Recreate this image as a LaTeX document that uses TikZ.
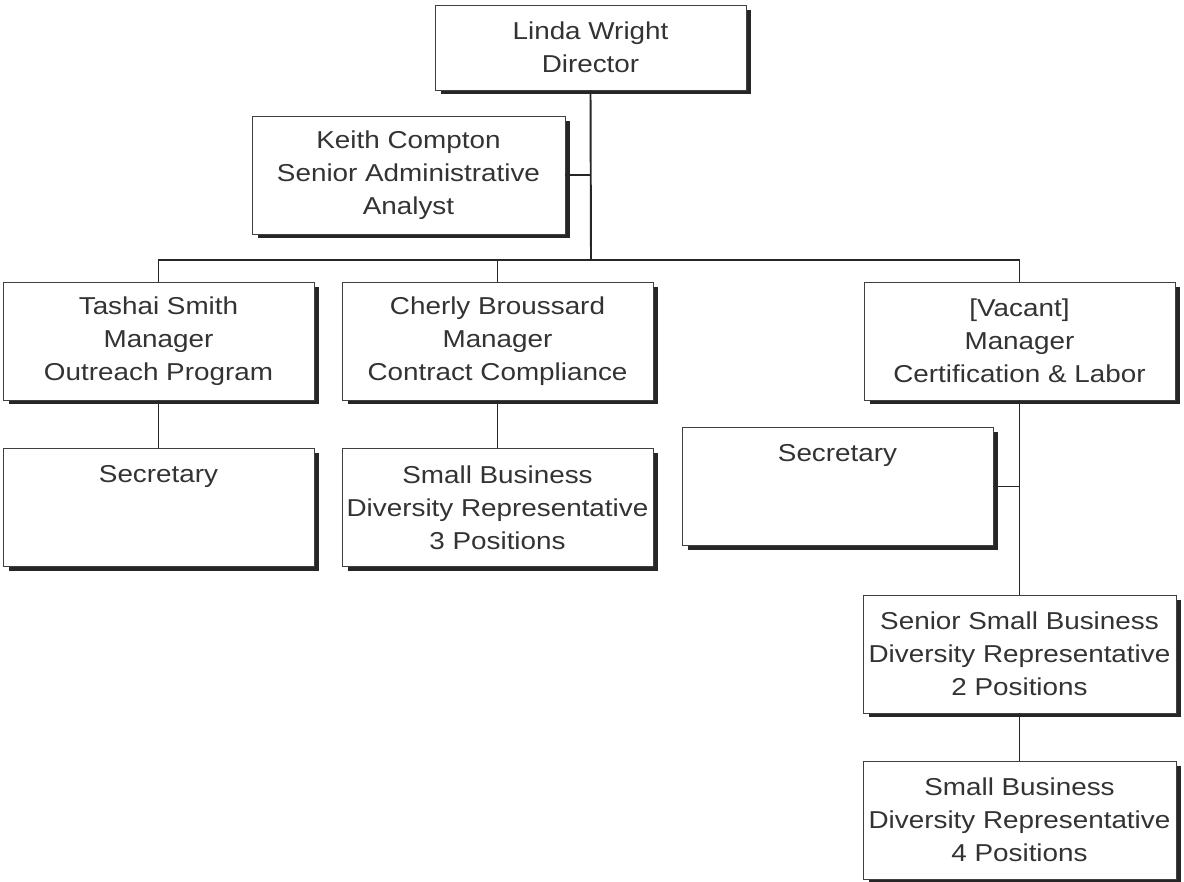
\documentclass[tikz,border=0pt]{standalone}
\usepackage{fontspec}
\setmainfont{Liberation Sans}[FakeStretch=1.14]
\usepackage{tikz}
\usetikzlibrary{shadows}

\tikzset{
  post/.style={draw=black!75, line width=0.5pt, fill=white, text=black!80,
    align=center, minimum width=6.22cm, minimum height=2.36cm, inner sep=0pt,
    font=\fontsize{13.9}{18.8}\selectfont,
    drop shadow={shadow xshift=0.11cm, shadow yshift=-0.09cm, fill=black!85, opacity=1}},
  link/.style={line width=1.1pt, black!85}
}

\begin{document}
\begin{tikzpicture}[x=0.02cm, y=-0.02cm]
    \useasboundingbox (0,0) rectangle (1184,882);
    \node[post, minimum height=1.7cm] (director) at (590.5,47.5) {Linda Wright\\Director};
    \node[post, minimum width=6.26cm] (analyst) at (408.5,175) {Keith Compton\\Senior Administrative\\Analyst};
    \node[post] (outreach) at (158.5,341) {Tashai Smith\\Manager\\Outreach Program};
    \node[post] (compliance) at (497.5,341) {Cherly Broussard\\Manager\\Contract Compliance};
    \node[post] (certification) at (1019.5,341) {[Vacant]\\Manager\\Certification \& Labor};
    \node[post] (secA) at (158.5,507.5) {Secretary\\~\\~};
    \node[post] (repA) at (497.5,507.5) {Small Business\\Diversity Representative\\3 Positions};
    \node[post] (secB) at (837.5,486.5) {Secretary\\~\\~};
    \node[post, minimum width=6.26cm] (seniorrep) at (1019.5,654) {Senior Small Business\\Diversity Representative\\2 Positions};
    \node[post, minimum width=6.26cm] (repB) at (1019.5,820) {Small Business\\Diversity Representative\\4 Positions};

    \coordinate (bus) at (591,260);
    \draw[link] (director.south) -- (bus);
    \draw[link] (analyst.east) -- (analyst.east -| director.south);
    \draw[link] (outreach.north) |- (bus) -| (certification.north);
    \draw[link] (compliance.north) -- (compliance.north |- bus);
    \draw[link] (outreach.south) -- (secA.north);
    \draw[link] (compliance.south) -- (repA.north);
    \draw[link] (certification.south) -- (seniorrep.north);
    \draw[link] (secB.east) -- (secB.east -| certification.south);
    \draw[link] (seniorrep.south) -- (repB.north);
\end{tikzpicture}
\end{document}
